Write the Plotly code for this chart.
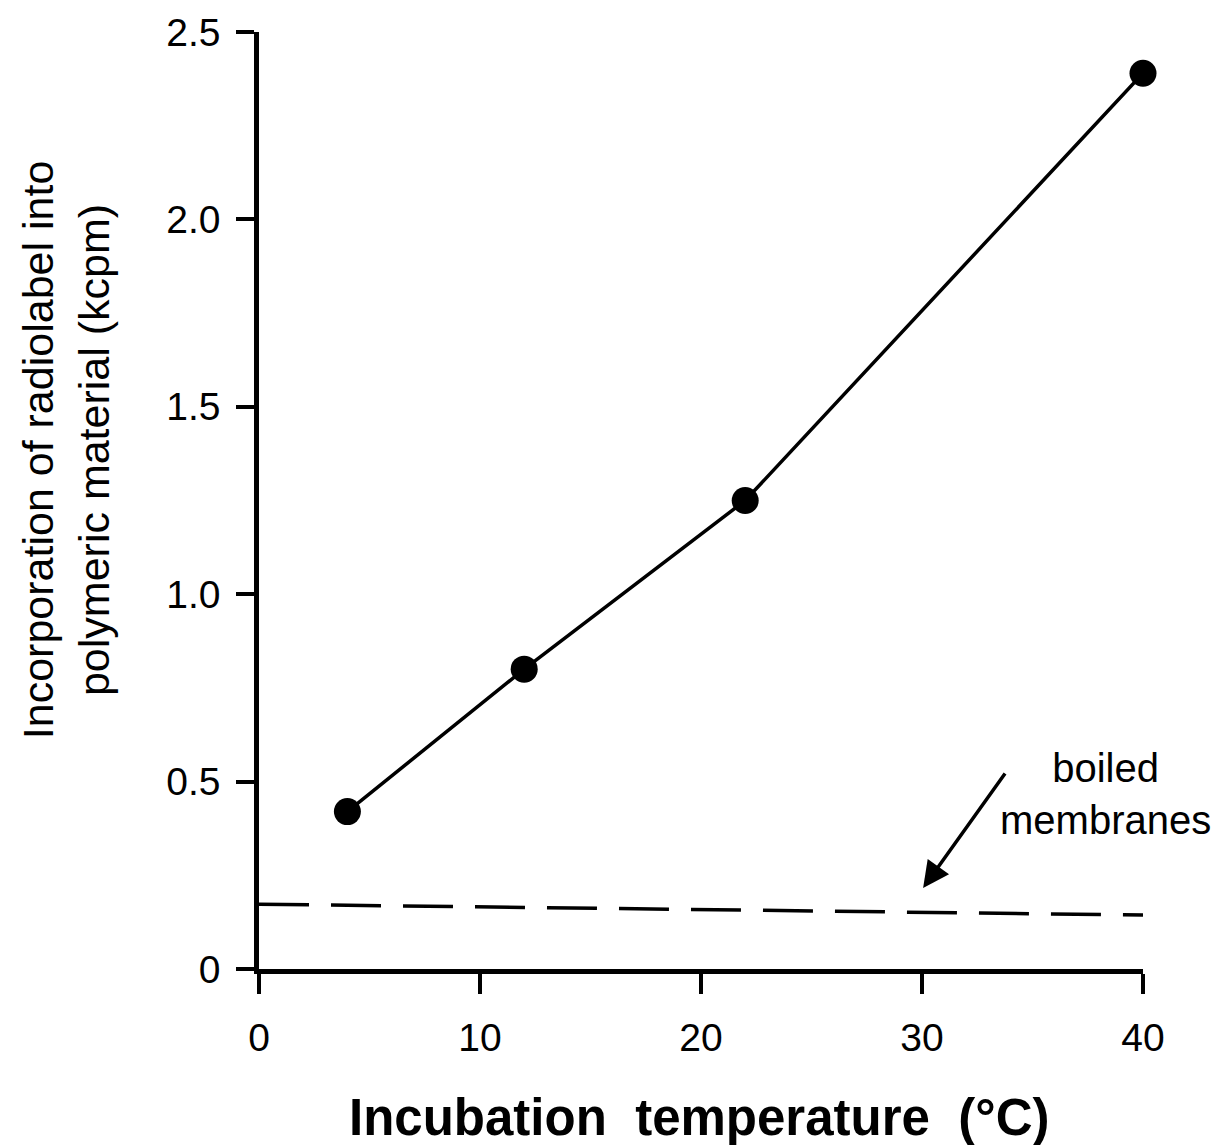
import plotly.graph_objects as go

# Incorporation measured at each incubation temperature
temperature_c = [4, 12, 22, 40]
incorporation_kcpm = [0.42, 0.80, 1.25, 2.39]

# Boiled-membrane control (background level), drawn as a dashed line
control_x = [0, 40]
control_kcpm = [0.173, 0.144]

x_ticks = [0, 10, 20, 30, 40]
y_ticks = [0, 0.5, 1.0, 1.5, 2.0, 2.5]
y_tick_text = ["0", "0.5", "1.0", "1.5", "2.0", "2.5"]

FONT = "Liberation Sans, Arial, sans-serif"

fig = go.Figure()

fig.add_trace(go.Scatter(
    x=control_x, y=control_kcpm, mode="lines",
    line=dict(color="black", width=3.5, dash="50px,22px"),
    cliponaxis=False, showlegend=False, hoverinfo="skip",
))

fig.add_trace(go.Scatter(
    x=temperature_c, y=incorporation_kcpm, mode="lines+markers",
    line=dict(color="black", width=3.5),
    marker=dict(color="black", size=27),
    cliponaxis=False, showlegend=False,
))

fig.update_xaxes(
    range=[0, 40], tickvals=x_ticks, ticktext=[str(v) for v in x_ticks],
    showgrid=False, zeroline=False, showline=True, linecolor="black", linewidth=4.5,
    ticks="outside", ticklen=20, tickwidth=3.5, tickcolor="black",
    ticklabelstandoff=10,
    tickfont=dict(family=FONT, size=39, color="black"),
)
fig.update_yaxes(
    range=[0, 2.5], tickvals=y_ticks, ticktext=y_tick_text,
    showgrid=False, zeroline=False, showline=True, linecolor="black", linewidth=4.5,
    ticks="outside", ticklen=18, tickwidth=3.5, tickcolor="black",
    ticklabelstandoff=8,
    tickfont=dict(family=FONT, size=39, color="black"),
)

# Axis titles
fig.add_annotation(
    xref="paper", yref="paper", x=0.498, y=-0.159, xanchor="center", yanchor="middle",
    text="<b>Incubation\u00a0 temperature\u00a0 (°C)</b>", showarrow=False,
    font=dict(family=FONT, size=51, color="black"),
)
fig.add_annotation(
    xref="paper", yref="paper", x=-0.218, y=0.554, xanchor="center", yanchor="middle",
    text="Incorporation of radiolabel into<br>polymeric material (kcpm)",
    showarrow=False, textangle=-90,
    font=dict(family=FONT, size=43, color="black"),
)

# Label and arrow pointing at the boiled-membrane control line
fig.add_annotation(
    x=30.05, y=0.216, ax=83, ay=-116, axref="pixel", ayref="pixel",
    text="", showarrow=True, arrowhead=2, arrowsize=1.5, arrowwidth=3.5, arrowcolor="black",
)
fig.add_annotation(
    x=38.3, y=0.468, xanchor="center", yanchor="middle",
    text="boiled<br>membranes", showarrow=False,
    font=dict(family=FONT, size=40, color="black"),
)

fig.update_layout(
    width=1221, height=1145,
    margin=dict(l=259, r=78, t=32, b=176),
    paper_bgcolor="white", plot_bgcolor="white",
)

fig.write_html("out.html")
